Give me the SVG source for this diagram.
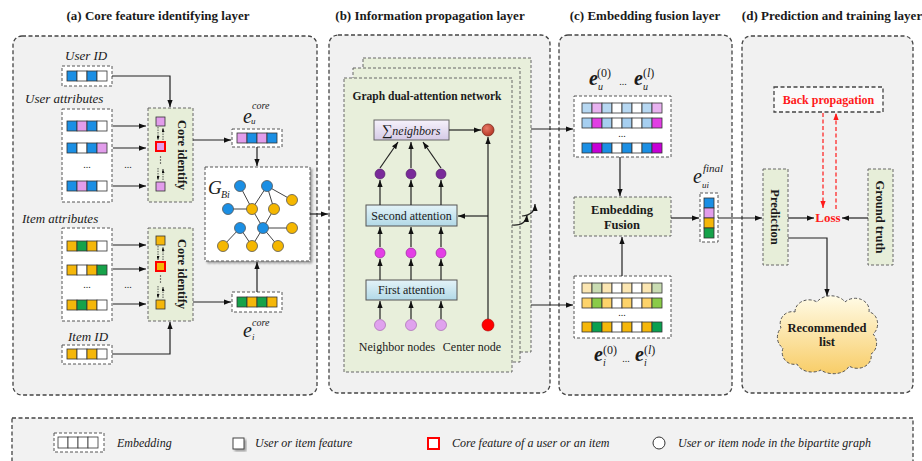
<svg xmlns="http://www.w3.org/2000/svg" width="922" height="461" viewBox="0 0 922 461" font-family="'Liberation Serif', serif">
<style>
  text { font-family: "Liberation Serif", serif; fill: #1a1a1a; }
  .title { font-size: 13px; font-weight: bold; text-anchor: middle; }
  .it { font-style: italic; font-size: 13px; }
  .lg { font-style: italic; font-size: 12px; }
  .bd { font-weight: bold; font-size: 12.5px; }
  .panel { fill: #f1f1f1; stroke: #444; stroke-width: 1.3; stroke-dasharray: 4 2.5; }
  .dbox { fill: #ffffff; stroke: #555; stroke-width: 1; stroke-dasharray: 3 2; }
  .gbox { fill: #e7eed9; stroke: #666; stroke-width: 1; stroke-dasharray: 3 2; }
  .layer { fill: #e8efdb; stroke: #666; stroke-width: 1; stroke-dasharray: 3 2; }
  .c { stroke: #333; stroke-width: .8; }
  .b { fill: #1b8fe4; } .p { fill: #e29deb; } .w { fill: #ffffff; } .y { fill: #f5b70a; } .g { fill: #16a24a; }
  .lb { fill: #b7d8f2; } .lp { fill: #e8b2f0; } .mb { fill: #a6cff0; } .mg { fill: #e23ee4; } .pu { fill: #c600d6; }
  .ly { fill: #fbe6b2; } .lgr { fill: #c9dcb2; } .my { fill: #fdd36a; } .lime { fill: #8acb48; } .dg { fill: #0aa050; }
  .nb { fill: #1b8fe4; stroke: #555; stroke-width: .8; }
  .ny { fill: #f5b700; stroke: #555; stroke-width: .8; }
  .edge { stroke: #444; stroke-width: 1; }
  .ln { fill: none; stroke: #222; stroke-width: 1.2; }
  .mini { fill: none; stroke: #333; stroke-width: .8; stroke-dasharray: 1.5 1; }
  .red { fill: #ff1a1a; font-weight: bold; }
</style>
<defs>
  <marker id="ah" viewBox="0 0 8 6" refX="8" refY="3" markerWidth="7" markerHeight="5.5" orient="auto" markerUnits="userSpaceOnUse">
    <path d="M0,0 L8,3 L0,6 z" fill="#111"/>
  </marker>
  <marker id="ahs" viewBox="0 0 8 6" refX="8" refY="3" markerWidth="4" markerHeight="3" orient="auto" markerUnits="userSpaceOnUse">
    <path d="M0,0 L8,3 L0,6 z" fill="#111"/>
  </marker>
  <marker id="ahr" viewBox="0 0 8 6" refX="8" refY="3" markerWidth="7" markerHeight="5.5" orient="auto" markerUnits="userSpaceOnUse">
    <path d="M0,0 L8,3 L0,6 z" fill="#ff1a1a"/>
  </marker>
  <linearGradient id="gAtt" x1="0" y1="0" x2="0" y2="1">
    <stop offset="0" stop-color="#e4f3f8"/><stop offset="1" stop-color="#b2d9e7"/>
  </linearGradient>
  <linearGradient id="gSum" x1="0" y1="0" x2="0" y2="1">
    <stop offset="0" stop-color="#f6f2fb"/><stop offset="1" stop-color="#d5cae6"/>
  </linearGradient>
  <radialGradient id="gAgg" cx=".4" cy=".35" r=".7">
    <stop offset="0" stop-color="#e87a68"/><stop offset="1" stop-color="#b0301f"/>
  </radialGradient>
  <linearGradient id="gCloud" x1="0" y1="0" x2="0" y2="1">
    <stop offset="0" stop-color="#fffbe6"/><stop offset="1" stop-color="#f8cd68"/>
  </linearGradient>
  <filter id="sh" x="-10%" y="-10%" width="130%" height="130%">
    <feDropShadow dx="2" dy="2" stdDeviation="1.2" flood-color="#000" flood-opacity=".35"/>
  </filter>
</defs>

<rect width="922" height="461" fill="#ffffff"/>

<!-- layer titles -->
<text class="title" x="158" y="20">(a) Core feature identifying layer</text>
<text class="title" x="430" y="20">(b) Information propagation layer</text>
<text class="title" x="645" y="20">(c) Embedding fusion layer</text>
<text class="title" x="832" y="20">(d) Prediction and training layer</text>

<!-- panel frames -->
<rect class="panel" x="13" y="36" width="304" height="359" rx="9"/>
<rect class="panel" x="329" y="35" width="221" height="358" rx="9"/>
<rect class="panel" x="559" y="35" width="173" height="360" rx="9"/>
<rect class="panel" x="742" y="36" width="171" height="357" rx="9"/>

<!-- ===== (a) core feature identifying layer ===== -->
<g id="user-id">
  <text class="it" x="65" y="60">User ID</text>
  <rect class="dbox" x="62" y="66" width="50" height="20"/>
  <g class="c"><rect class="b" x="67" y="71" width="10" height="10"/><rect class="w" x="77" y="71" width="10" height="10"/><rect class="b" x="87" y="71" width="10" height="10"/><rect class="w" x="97" y="71" width="10" height="10"/></g>
</g>

<g id="user-attributes">
  <text class="it" x="25" y="103">User attributes</text>
  <rect class="dbox" x="62" y="109" width="50" height="93"/>
  <g class="c">
    <rect class="b" x="67" y="121" width="10" height="10"/><rect class="p" x="77" y="121" width="10" height="10"/><rect class="b" x="87" y="121" width="10" height="10"/><rect class="w" x="97" y="121" width="10" height="10"/>
    <rect class="b" x="67" y="143" width="10" height="10"/><rect class="w" x="77" y="143" width="10" height="10"/><rect class="b" x="87" y="143" width="10" height="10"/><rect class="p" x="97" y="143" width="10" height="10"/>
    <rect class="b" x="67" y="181" width="10" height="10"/><rect class="p" x="77" y="181" width="10" height="10"/><rect class="b" x="87" y="181" width="10" height="10"/><rect class="w" x="97" y="181" width="10" height="10"/>
  </g>
  <text x="87" y="168" font-size="10" text-anchor="middle">...</text>
  <text x="128" y="168" font-size="10" text-anchor="middle">...</text>
</g>

<g id="core-identify-user">
  <rect class="gbox" x="148" y="108" width="45" height="94"/>
  <g class="c">
    <rect class="p" x="156" y="117" width="9" height="9"/>
    <rect class="p" x="156" y="142" width="9" height="9" stroke="#ff0000" stroke-width="2"/>
    <rect class="p" x="156" y="182" width="9" height="9"/>
  </g>
  <path class="mini" d="M158,127 V140" marker-end="url(#ahs)"/>
  <path class="mini" d="M163,140 V128" marker-end="url(#ahs)"/>
  <path class="mini" d="M158,168 V180" marker-end="url(#ahs)"/>
  <path class="mini" d="M163,180 V169" marker-end="url(#ahs)"/>
  <g fill="#333"><circle cx="160.5" cy="157" r=".7"/><circle cx="160.5" cy="160" r=".7"/><circle cx="160.5" cy="163" r=".7"/></g>
  <text class="bd" transform="translate(178,155) rotate(90)" text-anchor="middle">Core identify</text>
</g>

<g id="eu-core">
  <text x="243" y="123" font-size="20" font-style="italic">e</text>
  <text x="252" y="109" font-size="10" font-style="italic">core</text>
  <text x="251" y="124" font-size="9" font-style="italic">u</text>
  <rect class="dbox" x="232" y="129" width="50" height="18"/>
  <g class="c"><rect class="p" x="237" y="133" width="10" height="10"/><rect class="b" x="247" y="133" width="10" height="10"/><rect class="p" x="257" y="133" width="10" height="10"/><rect class="b" x="267" y="133" width="10" height="10"/></g>
</g>

<g id="bipartite-graph">
  <rect x="205" y="167" width="105" height="94" fill="#ffffff" stroke="#555" stroke-width="1" stroke-dasharray="3 2" filter="url(#sh)"/>
  <text x="208" y="194" font-size="19" font-style="italic">G</text>
  <text x="221" y="198" font-size="10" font-style="italic">Bi</text>
  <g class="edge">
    <line x1="240" y1="186" x2="252" y2="209"/>
    <line x1="267" y1="186" x2="252" y2="209"/>
    <line x1="267" y1="186" x2="274" y2="209"/>
    <line x1="267" y1="186" x2="292" y2="200"/>
    <line x1="228" y1="209" x2="252" y2="209"/>
    <line x1="252" y1="209" x2="263" y2="228"/>
    <line x1="274" y1="209" x2="263" y2="228"/>
    <line x1="263" y1="228" x2="292" y2="228"/>
    <line x1="263" y1="228" x2="252" y2="246"/>
    <line x1="263" y1="228" x2="278" y2="246"/>
    <line x1="240" y1="228" x2="223" y2="246"/>
    <line x1="240" y1="228" x2="252" y2="246"/>
  </g>
  <circle class="nb" cx="240" cy="186" r="5.5"/>
  <circle class="nb" cx="267" cy="186" r="5.5"/>
  <circle class="nb" cx="228" cy="209" r="5.5"/>
  <circle class="nb" cx="240" cy="228" r="5.5"/>
  <circle class="nb" cx="263" cy="228" r="5.5"/>
  <circle class="ny" cx="292" cy="200" r="5.5"/>
  <circle class="ny" cx="252" cy="209" r="5.5"/>
  <circle class="ny" cx="274" cy="209" r="5.5"/>
  <circle class="ny" cx="292" cy="228" r="5.5"/>
  <circle class="ny" cx="223" cy="246" r="5.5"/>
  <circle class="ny" cx="252" cy="246" r="5.5"/>
  <circle class="ny" cx="278" cy="246" r="5.5"/>
</g>

<g id="item-attributes">
  <text class="it" x="22" y="223">Item attributes</text>
  <rect class="dbox" x="62" y="228" width="50" height="93"/>
  <g class="c">
    <rect class="y" x="67" y="241" width="10" height="10"/><rect class="g" x="77" y="241" width="10" height="10"/><rect class="y" x="87" y="241" width="10" height="10"/><rect class="w" x="97" y="241" width="10" height="10"/>
    <rect class="y" x="67" y="265" width="10" height="10"/><rect class="w" x="77" y="265" width="10" height="10"/><rect class="y" x="87" y="265" width="10" height="10"/><rect class="g" x="97" y="265" width="10" height="10"/>
    <rect class="y" x="67" y="300" width="10" height="10"/><rect class="g" x="77" y="300" width="10" height="10"/><rect class="y" x="87" y="300" width="10" height="10"/><rect class="w" x="97" y="300" width="10" height="10"/>
  </g>
  <text x="87" y="288" font-size="10" text-anchor="middle">...</text>
  <text x="128" y="288" font-size="10" text-anchor="middle">...</text>
</g>

<g id="core-identify-item">
  <rect class="gbox" x="148" y="228" width="45" height="93"/>
  <g class="c">
    <rect class="y" x="156" y="236" width="9" height="9"/>
    <rect class="y" x="156" y="262" width="9" height="9" stroke="#ff0000" stroke-width="2"/>
    <rect class="y" x="156" y="300" width="9" height="9"/>
  </g>
  <path class="mini" d="M158,246 V260" marker-end="url(#ahs)"/>
  <path class="mini" d="M163,260 V247" marker-end="url(#ahs)"/>
  <path class="mini" d="M158,286 V298" marker-end="url(#ahs)"/>
  <path class="mini" d="M163,298 V287" marker-end="url(#ahs)"/>
  <g fill="#333"><circle cx="160.5" cy="276" r=".7"/><circle cx="160.5" cy="279" r=".7"/><circle cx="160.5" cy="282" r=".7"/></g>
  <text class="bd" transform="translate(178,274) rotate(90)" text-anchor="middle">Core identify</text>
</g>

<g id="ei-core">
  <rect class="dbox" x="232" y="292" width="50" height="20"/>
  <g class="c"><rect class="g" x="237" y="297" width="10" height="10"/><rect class="y" x="247" y="297" width="10" height="10"/><rect class="g" x="257" y="297" width="10" height="10"/><rect class="y" x="267" y="297" width="10" height="10"/></g>
  <text x="243" y="337" font-size="20" font-style="italic">e</text>
  <text x="252" y="326" font-size="10" font-style="italic">core</text>
  <text x="252" y="340" font-size="9" font-style="italic">i</text>
</g>

<g id="item-id">
  <text class="it" x="68" y="341">Item ID</text>
  <rect class="dbox" x="62" y="345" width="50" height="19"/>
  <g class="c"><rect class="y" x="67" y="349" width="10" height="10"/><rect class="w" x="77" y="349" width="10" height="10"/><rect class="y" x="87" y="349" width="10" height="10"/><rect class="w" x="97" y="349" width="10" height="10"/></g>
</g>

<!-- ===== (b) information propagation layer ===== -->
<g id="graph-dual-attention-network">
  <rect class="layer" x="363" y="58" width="168" height="294"/>
  <rect class="layer" x="353" y="68" width="167" height="294"/>
  <rect class="layer" x="344" y="78" width="168" height="294"/>
  <text x="427" y="100" font-size="11.5" font-weight="bold" text-anchor="middle">Graph dual-attention network</text>
</g>

<g id="sum-neighbors">
  <rect x="374" y="120" width="75" height="20" fill="url(#gSum)" stroke="#666" stroke-width="1"/>
  <text x="411" y="134.5" font-size="12" text-anchor="middle"><tspan font-size="15">∑</tspan><tspan font-style="italic">neighbors</tspan></text>
</g>
<g id="aggregated-node"><circle cx="488" cy="130" r="6" fill="url(#gAgg)" stroke="#7a2a20" stroke-width=".8"/></g>

<g id="second-level-nodes" fill="#7a2a9a" stroke="#4a1a60" stroke-width=".6">
  <circle cx="380" cy="174" r="5"/><circle cx="411" cy="174" r="5"/><circle cx="441" cy="174" r="5"/>
</g>
<g id="second-attention">
  <rect x="366" y="205" width="91" height="21" fill="url(#gAtt)" stroke="#555" stroke-width="1"/>
  <text x="411.5" y="220" font-size="12" text-anchor="middle">Second attention</text>
</g>
<g id="first-level-nodes" fill="#e43ee6" stroke="#8a2090" stroke-width=".6">
  <circle cx="380" cy="253" r="5"/><circle cx="411" cy="253" r="5"/><circle cx="441" cy="253" r="5"/>
</g>
<g id="first-attention">
  <rect x="366" y="280" width="91" height="20" fill="url(#gAtt)" stroke="#555" stroke-width="1"/>
  <text x="411.5" y="294" font-size="12" text-anchor="middle">First attention</text>
</g>
<g id="neighbor-nodes">
  <g fill="#e0a2ee" stroke="#9a5aa8" stroke-width=".6">
    <circle cx="380" cy="325" r="5.5"/><circle cx="411" cy="325" r="5.5"/><circle cx="441" cy="325" r="5.5"/>
  </g>
  <text x="397" y="351" font-size="12" text-anchor="middle">Neighbor nodes</text>
</g>
<g id="center-node">
  <circle cx="488" cy="325" r="6" fill="#ff0000" stroke="#a00" stroke-width=".6"/>
  <text x="472" y="351" font-size="12" text-anchor="middle">Center node</text>
</g>

<!-- ===== (c) embedding fusion layer ===== -->
<g id="user-layer-embeddings">
  <text x="589" y="85" font-size="20" font-style="italic" font-weight="bold">e</text>
  <text x="597" y="77" font-size="12">(0)</text>
  <text x="598" y="90" font-size="10" font-style="italic">u</text>
  <text x="623" y="85" font-size="10" text-anchor="middle">...</text>
  <text x="634" y="85" font-size="20" font-style="italic" font-weight="bold">e</text>
  <text x="643" y="77" font-size="12">(<tspan font-style="italic">l</tspan>)</text>
  <text x="643" y="90" font-size="10" font-style="italic">u</text>
  <rect class="dbox" x="574" y="96" width="97" height="61"/>
  <g class="c">
    <rect class="lb" x="582" y="103" width="10" height="10"/><rect class="lp" x="592" y="103" width="10" height="10"/><rect class="lb" x="602" y="103" width="10" height="10"/><rect class="w" x="612" y="103" width="10" height="10"/><rect class="lb" x="622" y="103" width="10" height="10"/><rect class="w" x="632" y="103" width="10" height="10"/><rect class="lb" x="642" y="103" width="10" height="10"/><rect class="lp" x="652" y="103" width="10" height="10"/>
    <rect class="mb" x="582" y="118" width="10" height="10"/><rect class="mg" x="592" y="118" width="10" height="10"/><rect class="mb" x="602" y="118" width="10" height="10"/><rect class="w" x="612" y="118" width="10" height="10"/><rect class="mb" x="622" y="118" width="10" height="10"/><rect class="w" x="632" y="118" width="10" height="10"/><rect class="mb" x="642" y="118" width="10" height="10"/><rect class="mg" x="652" y="118" width="10" height="10"/>
    <rect class="b" x="582" y="143" width="10" height="10"/><rect class="pu" x="592" y="143" width="10" height="10"/><rect class="b" x="602" y="143" width="10" height="10"/><rect class="w" x="612" y="143" width="10" height="10"/><rect class="b" x="622" y="143" width="10" height="10"/><rect class="w" x="632" y="143" width="10" height="10"/><rect class="b" x="642" y="143" width="10" height="10"/><rect class="pu" x="652" y="143" width="10" height="10"/>
  </g>
  <text x="622" y="137" font-size="10" text-anchor="middle">...</text>
</g>

<g id="embedding-fusion">
  <rect class="gbox" x="574" y="197" width="97" height="39"/>
  <text class="bd" x="622" y="214" text-anchor="middle">Embedding</text>
  <text class="bd" x="622" y="229" text-anchor="middle">Fusion</text>
</g>

<g id="final-embedding">
  <text x="693" y="183" font-size="20" font-style="italic">e</text>
  <text x="703" y="172" font-size="11" font-style="italic">final</text>
  <text x="702" y="188" font-size="9" font-style="italic">ui</text>
  <rect class="dbox" x="700" y="193" width="18" height="49"/>
  <g class="c">
    <rect class="b" x="704" y="198" width="10" height="10"/>
    <rect class="p" x="704" y="208" width="10" height="10"/>
    <rect class="y" x="704" y="218" width="10" height="10"/>
    <rect class="g" x="704" y="228" width="10" height="10"/>
  </g>
</g>

<g id="item-layer-embeddings">
  <rect class="dbox" x="574" y="276" width="97" height="62"/>
  <g class="c">
    <rect class="ly" x="582" y="283" width="10" height="10"/><rect class="lgr" x="592" y="283" width="10" height="10"/><rect class="ly" x="602" y="283" width="10" height="10"/><rect class="w" x="612" y="283" width="10" height="10"/><rect class="ly" x="622" y="283" width="10" height="10"/><rect class="w" x="632" y="283" width="10" height="10"/><rect class="ly" x="642" y="283" width="10" height="10"/><rect class="lgr" x="652" y="283" width="10" height="10"/>
    <rect class="my" x="582" y="298" width="10" height="10"/><rect class="lime" x="592" y="298" width="10" height="10"/><rect class="my" x="602" y="298" width="10" height="10"/><rect class="w" x="612" y="298" width="10" height="10"/><rect class="my" x="622" y="298" width="10" height="10"/><rect class="w" x="632" y="298" width="10" height="10"/><rect class="my" x="642" y="298" width="10" height="10"/><rect class="lime" x="652" y="298" width="10" height="10"/>
    <rect class="y" x="582" y="322" width="10" height="10"/><rect class="dg" x="592" y="322" width="10" height="10"/><rect class="y" x="602" y="322" width="10" height="10"/><rect class="w" x="612" y="322" width="10" height="10"/><rect class="y" x="622" y="322" width="10" height="10"/><rect class="w" x="632" y="322" width="10" height="10"/><rect class="y" x="642" y="322" width="10" height="10"/><rect class="dg" x="652" y="322" width="10" height="10"/>
  </g>
  <text x="622" y="316" font-size="10" text-anchor="middle">...</text>
  <text x="594" y="361" font-size="20" font-style="italic" font-weight="bold">e</text>
  <text x="603" y="354" font-size="12">(0)</text>
  <text x="603" y="366" font-size="10" font-style="italic">i</text>
  <text x="626" y="362" font-size="10" text-anchor="middle">...</text>
  <text x="635" y="361" font-size="20" font-style="italic" font-weight="bold">e</text>
  <text x="644" y="354" font-size="12">(<tspan font-style="italic">l</tspan>)</text>
  <text x="644" y="366" font-size="10" font-style="italic">i</text>
</g>

<!-- ===== (d) prediction and training layer ===== -->
<g id="back-propagation">
  <rect x="774" y="87" width="109" height="25" fill="#fafafa" stroke="#444" stroke-width="1.3" stroke-dasharray="4 2.5"/>
  <text class="red" x="828.5" y="104" font-size="12" text-anchor="middle">Back propagation</text>
</g>
<g id="prediction">
  <rect class="gbox" x="763" y="169" width="25" height="96"/>
  <text class="bd" transform="translate(771,217) rotate(90)" text-anchor="middle" font-size="12">Prediction</text>
</g>
<g id="ground-truth">
  <rect class="gbox" x="868" y="169" width="25" height="96"/>
  <text class="bd" transform="translate(876,217) rotate(90)" text-anchor="middle" font-size="12">Ground truth</text>
</g>
<g id="loss">
  <text class="red" x="828" y="222" font-size="13" text-anchor="middle">Loss</text>
</g>
<g id="recommended-list">
  <path d="M795,312 a14,12 0 0 1 22,-10 a16,12 0 0 1 28,0 a14,12 0 0 1 24,10 a10,12 0 0 1 4,22 a10,12 0 0 1 -2,20 a14,12 0 0 1 -22,12 a16,10 0 0 1 -28,4 a16,12 0 0 1 -24,-6 a12,12 0 0 1 -14,-16 a10,12 0 0 1 -2,-20 a12,12 0 0 1 14,-16 z" fill="url(#gCloud)" stroke="#555" stroke-width="1" stroke-dasharray="3 2"/>
  <text class="bd" x="827" y="332" text-anchor="middle" font-size="12">Recommended</text>
  <text class="bd" x="827" y="346" text-anchor="middle" font-size="12">list</text>
</g>

<!-- connectors -->
<g id="connectors">
  <path class="ln" d="M112,76 H170 V107" marker-end="url(#ah)"/>
  <path class="ln" d="M113,126 H146" marker-end="url(#ah)"/>
  <path class="ln" d="M113,148 H146" marker-end="url(#ah)"/>
  <path class="ln" d="M113,186 H146" marker-end="url(#ah)"/>
  <path class="ln" d="M193,140 H231" marker-end="url(#ah)"/>
  <path class="ln" d="M257,147 V166" marker-end="url(#ah)"/>
  <path class="ln" d="M113,245 H146" marker-end="url(#ah)"/>
  <path class="ln" d="M113,269 H146" marker-end="url(#ah)"/>
  <path class="ln" d="M113,304 H146" marker-end="url(#ah)"/>
  <path class="ln" d="M193,302 H231" marker-end="url(#ah)"/>
  <path class="ln" d="M257,292 V262" marker-end="url(#ah)"/>
  <path class="ln" d="M112,354 H170 V322" marker-end="url(#ah)"/>
  <path class="ln" d="M310,214 H328" marker-end="url(#ah)"/>

  <path class="ln" d="M380,168 L398,142" marker-end="url(#ah)"/>
  <path class="ln" d="M411,168 V142" marker-end="url(#ah)"/>
  <path class="ln" d="M441,168 L423,142" marker-end="url(#ah)"/>
  <path class="ln" d="M449,130 H481" marker-end="url(#ah)"/>
  <path class="ln" d="M380,205 V180" marker-end="url(#ah)"/>
  <path class="ln" d="M411,205 V180" marker-end="url(#ah)"/>
  <path class="ln" d="M441,205 V180" marker-end="url(#ah)"/>
  <path class="ln" d="M380,247 V227" marker-end="url(#ah)"/>
  <path class="ln" d="M411,247 V227" marker-end="url(#ah)"/>
  <path class="ln" d="M441,247 V227" marker-end="url(#ah)"/>
  <path class="ln" d="M380,280 V259" marker-end="url(#ah)"/>
  <path class="ln" d="M411,280 V259" marker-end="url(#ah)"/>
  <path class="ln" d="M441,280 V259" marker-end="url(#ah)"/>
  <path class="ln" d="M380,319 V301" marker-end="url(#ah)"/>
  <path class="ln" d="M411,319 V301" marker-end="url(#ah)"/>
  <path class="ln" d="M441,319 V301" marker-end="url(#ah)"/>
  <path class="ln" d="M488,319 V137" marker-end="url(#ah)"/>
  <path class="ln" d="M488,216 H458" marker-end="url(#ah)"/>
  <path class="ln" d="M512,225 Q526,226 527,215" marker-end="url(#ah)"/>
  <path class="ln" d="M522,216 Q535,215 535,204" marker-end="url(#ah)"/>

  <path class="ln" d="M531,129 H573" marker-end="url(#ah)"/>
  <path class="ln" d="M531,305 H573" marker-end="url(#ah)"/>
  <path class="ln" d="M620,157 V196" marker-end="url(#ah)"/>
  <path class="ln" d="M622,276 V237" marker-end="url(#ah)"/>
  <path class="ln" d="M671,218 H699" marker-end="url(#ah)"/>
  <path class="ln" d="M718,218 H762" marker-end="url(#ah)"/>

  <path class="ln" d="M788,218 H814" marker-end="url(#ah)"/>
  <path class="ln" d="M868,218 H842" marker-end="url(#ah)"/>
  <path class="ln" d="M788,238 H827 V296" marker-end="url(#ah)"/>
  <path d="M823,113 V208" fill="none" stroke="#ff1a1a" stroke-width="1.2" stroke-dasharray="4 2.5" marker-end="url(#ahr)"/>
  <path d="M836,209 V113" fill="none" stroke="#ff1a1a" stroke-width="1.2" stroke-dasharray="4 2.5" marker-end="url(#ahr)"/>
</g>

<!-- legend -->
<g id="legend">
  <rect x="12" y="418" width="901" height="60" fill="#f2f2f2" stroke="#444" stroke-width="1.3" stroke-dasharray="4 2.5"/>
  <rect class="dbox" x="54" y="433" width="50" height="19" fill="none"/>
  <g class="c"><rect class="w" x="58" y="437" width="10" height="11"/><rect class="w" x="68" y="437" width="10" height="11"/><rect class="w" x="78" y="437" width="10" height="11"/><rect class="w" x="88" y="437" width="10" height="11"/></g>
  <text class="lg" x="117" y="447">Embedding</text>
  <rect x="233" y="438" width="11" height="11" fill="#ffffff" stroke="#444" stroke-width="1" filter="url(#sh)"/>
  <text class="lg" x="255" y="447">User or item feature</text>
  <rect x="428" y="438" width="11" height="11" fill="#ffffff" stroke="#ff0000" stroke-width="2"/>
  <text class="lg" x="452" y="447">Core feature of a user or an item</text>
  <circle cx="659" cy="443" r="6" fill="#ffffff" stroke="#333" stroke-width="1"/>
  <text class="lg" x="678" y="447">User or item node in the bipartite graph</text>
</g>
</svg>
